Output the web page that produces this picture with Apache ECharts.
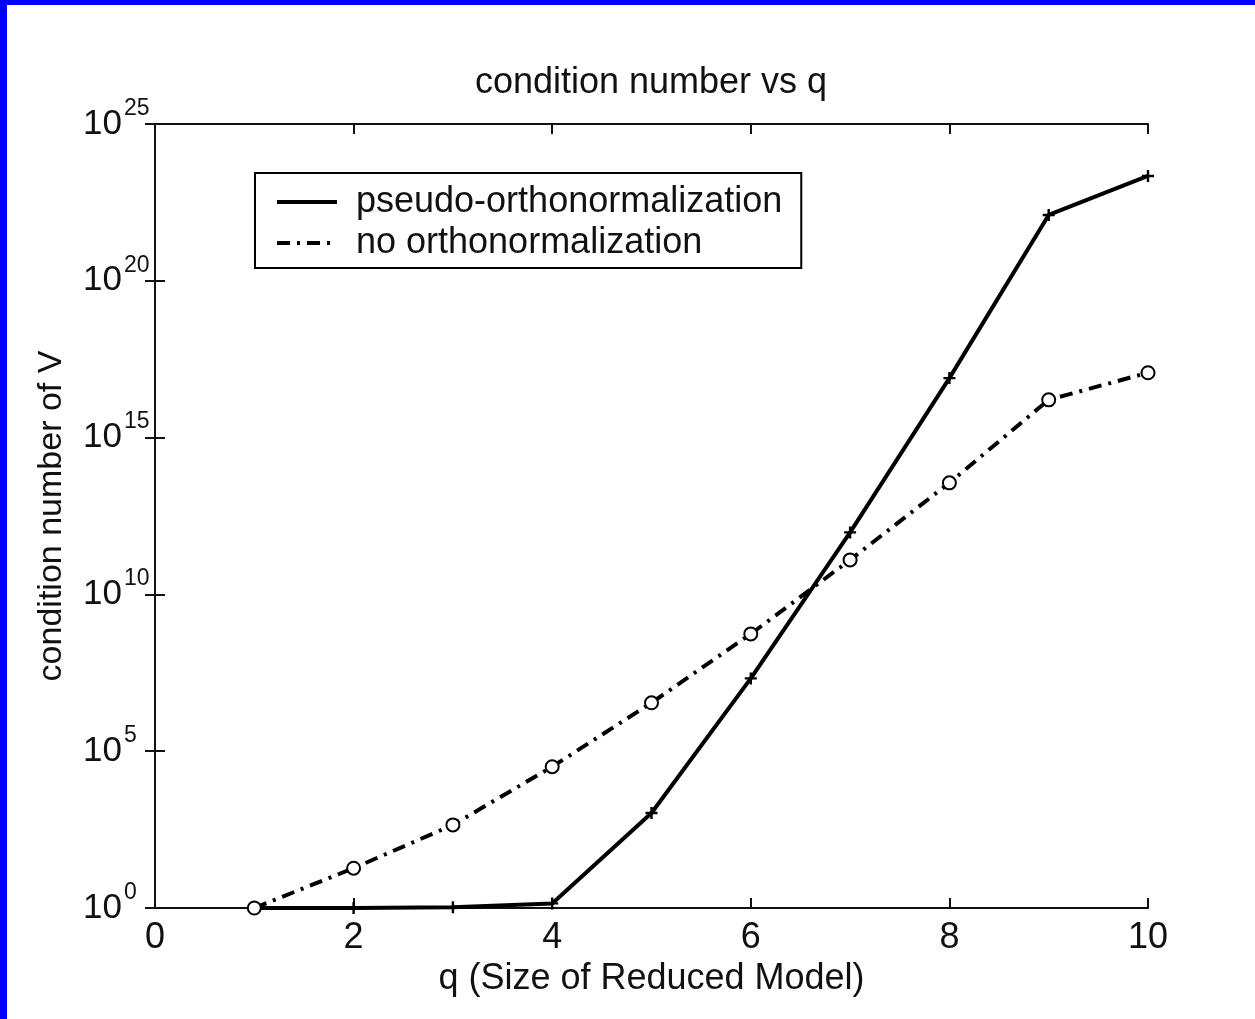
<!DOCTYPE html>
<html>
<head>
<meta charset="utf-8">
<script src="https://cdn.jsdelivr.net/npm/echarts@6/dist/echarts.min.js"></script>
<style>
    html, body { margin: 0; padding: 0; background: #0000ff; }
    #main { position: absolute; left: 7px; top: 5px; width: 1248px; height: 1014px; background: #fff; }
</style>
</head>
<body>
<div id="main"></div>
<script>
// q values and condition numbers
var qValues = [1, 2, 3, 4, 5, 6, 7, 8, 9, 10]
var pseudoOrtho = [1, 1, 1.05, 1.4, 1.07e3, 2.1e7, 9.5e11, 7.9e16, 1.26e22, 2.2e23]
var noOrtho = [1, 18.6, 447, 3.2e4, 3.5e6, 5.5e8, 1.26e11, 3.6e13, 1.6e16, 1.17e17]
var seriesNames = ['pseudo-orthonormalization', 'no orthonormalization']

var font = 'Liberation Sans'
var ink = '#111'

function pairs(ys){
    return qValues.map(function(q, i){ return [q, ys[i]] })
}

var plusPath = 'path://M4,0H6V4H10V6H6V10H4V6H0V4H4Z'

var tickStyle = { show: true, inside: true, length: 10, lineStyle: { color: ink, width: 2 } }
var lineAxis = { show: true, lineStyle: { color: ink, width: 2 } }

var option = {
    animation: false,
    backgroundColor: '#fff',
    textStyle: { fontFamily: font },
    title: {
        text: 'condition number vs q',
        left: 644,
        textAlign: 'center',
        top: 60,
        padding: 0,
        textStyle: { fontFamily: font, fontSize: 36, fontWeight: 'normal', color: ink }
    },
    legend: {
        orient: 'vertical',
        left: 248,
        top: 168,
        padding: [11, 19, 7, 20],
        itemGap: 5,
        itemWidth: 60,
        itemHeight: 20,
        borderColor: '#000',
        borderWidth: 2,
        backgroundColor: '#fff',
        itemStyle: { opacity: 0 },
        lineStyle: { width: 4 },
        textStyle: { fontFamily: font, fontSize: 36, color: ink, lineHeight: 35, padding: [0, 0, 0, 14] },
        data: seriesNames
    },
    grid: { left: 148, top: 119, width: 993, height: 784 },
    xAxis: [
        {
            type: 'value', min: 0, max: 10, interval: 2,
            name: 'q (Size of Reduced Model)',
            nameLocation: 'middle',
            nameGap: 41,
            nameTextStyle: { fontFamily: font, fontSize: 36, color: ink },
            axisLine: lineAxis,
            axisTick: tickStyle,
            axisLabel: { fontFamily: font, fontSize: 36, color: ink, margin: 12 },
            splitLine: { show: false }
        },
        {
            type: 'value', min: 0, max: 10, interval: 2, position: 'top',
            axisLine: lineAxis,
            axisTick: tickStyle,
            axisLabel: { show: false },
            splitLine: { show: false }
        }
    ],
    yAxis: [
        {
            type: 'log', min: 1, max: 1e25, interval: 5,
            name: 'condition number of V',
            nameLocation: 'middle',
            nameGap: 86,
            nameTextStyle: { fontFamily: font, fontSize: 34, color: ink },
            axisLine: lineAxis,
            axisTick: tickStyle,
            axisLabel: {
                margin: 72,
                align: 'left',
                formatter: function(v){
                    var e = Math.round(Math.log10(v))
                    return '{b|10}{s|' + e + '}'
                },
                rich: {
                    b: { fontFamily: font, fontSize: 35, color: ink, lineHeight: 54, verticalAlign: 'middle' },
                    s: { fontFamily: font, fontSize: 23, color: ink, lineHeight: 22, padding: [0, 0, 0, 2], verticalAlign: 'top' }
                }
            },
            splitLine: { show: false }
        },
        {
            type: 'log', min: 1, max: 1e25, interval: 5, position: 'right',
            axisLine: lineAxis,
            axisTick: tickStyle,
            axisLabel: { show: false },
            splitLine: { show: false }
        }
    ],
    series: [
        {
            name: seriesNames[0],
            type: 'line',
            data: pairs(pseudoOrtho),
            symbol: plusPath,
            symbolSize: 12,
            itemStyle: { color: '#000' },
            lineStyle: { color: '#000', width: 4 }
        },
        {
            name: seriesNames[1],
            type: 'line',
            data: pairs(noOrtho),
            symbol: 'emptyCircle',
            symbolSize: 13,
            itemStyle: { color: '#000', borderWidth: 2 },
            lineStyle: { color: '#000', width: 4, type: [13, 7, 3, 7] }
        }
    ]
}

var chart = echarts.init(document.getElementById('main'))
chart.setOption(option)
</script>
</body>
</html>
